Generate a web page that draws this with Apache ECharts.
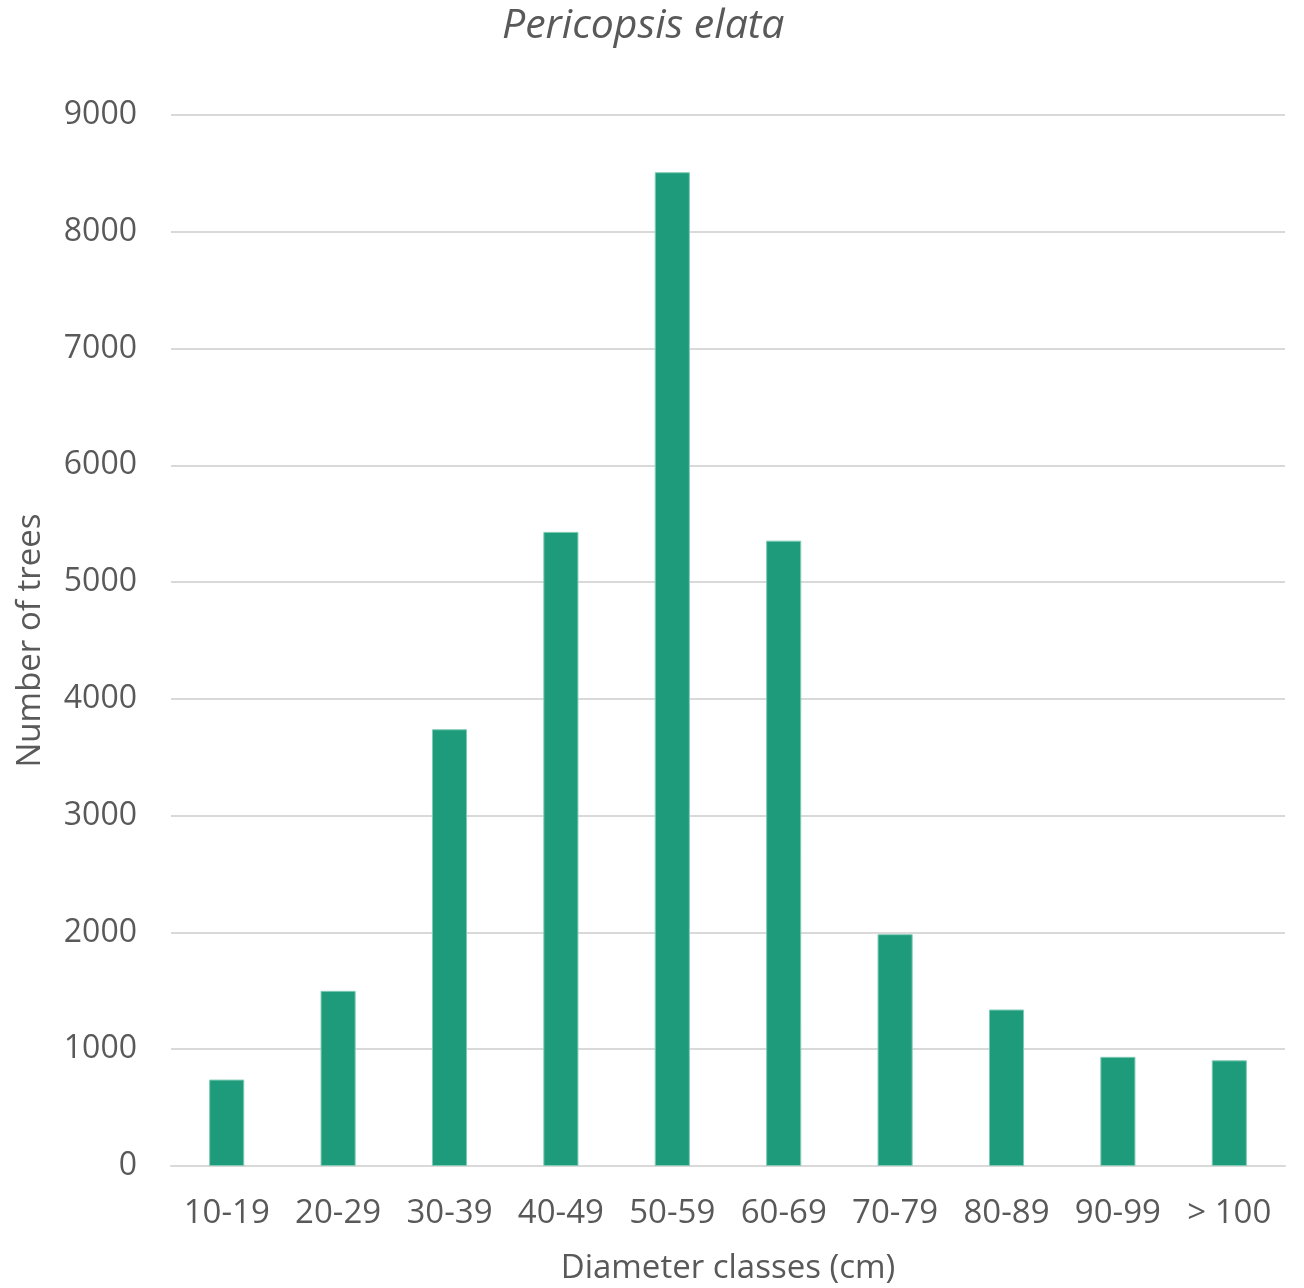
<!DOCTYPE html>
<html>
<head>
<meta charset="utf-8">
<script src="https://cdn.jsdelivr.net/npm/echarts@6/dist/echarts.min.js"></script>
<style>
  html, body { margin: 0; padding: 0; background: #fff; }
  #chart { width: 1304px; height: 1288px; }
</style>
</head>
<body>
<div id="chart"></div>
<script>
  // diameter classes and tree counts
  const classes = ["10-19", "20-29", "30-39", "40-49", "50-59", "60-69", "70-79", "80-89", "90-99", "> 100"];
  const trees = [740, 1500, 3740, 5430, 8510, 5355, 1985, 1340, 935, 905];
  const yTicks = [0, 9000, 1000]; // min, max, step

  const chart = echarts.init(document.getElementById("chart"));
  const textColor = "#595959";
  const font = "Open Sans";

  const option = {
    animation: false,
    title: {
      text: "Pericopsis elata",
      left: 497,
      top: 1,
      textStyle: {
        fontFamily: font,
        fontStyle: "italic",
        fontWeight: "normal",
        fontSize: 41,
        color: textColor,
      },
    },
    grid: {
      left: 171,
      right: 19,
      top: 115,
      bottom: 122,
      outerBoundsMode: "none",
      containLabel: false,
    },
    xAxis: {
      type: "category",
      data: classes,
      name: "Diameter classes (cm)",
      nameLocation: "middle",
      nameGap: 86,
      nameTextStyle: { fontFamily: font, fontSize: 33, color: textColor },
      axisLine: { lineStyle: { color: "#d9d9d9", width: 2 } },
      axisTick: { show: false },
      axisLabel: {
        fontFamily: font,
        fontSize: 33,
        color: textColor,
        margin: 31,
        interval: 0,
      },
    },
    yAxis: {
      type: "value",
      min: yTicks[0],
      max: yTicks[1],
      interval: yTicks[2],
      name: "Number of trees",
      nameLocation: "middle",
      nameGap: 124,
      nameTextStyle: { fontFamily: font, fontSize: 33, color: textColor },
      axisLine: { show: false },
      axisTick: { show: false },
      axisLabel: {
        fontFamily: font,
        fontSize: 32,
        color: textColor,
        margin: 34,
        formatter: (v) => String(v),
      },
      splitLine: { lineStyle: { color: "#d9d9d9", width: 2 } },
    },
    series: [
      {
        type: "bar",
        data: trees,
        barWidth: "31.5%",
        itemStyle: {
          color: "#1e9b7a",
          borderColor: "#7fcbb5",
          borderWidth: 1,
        },
      },
    ],
  };

  chart.setOption(option);
</script>
</body>
</html>
